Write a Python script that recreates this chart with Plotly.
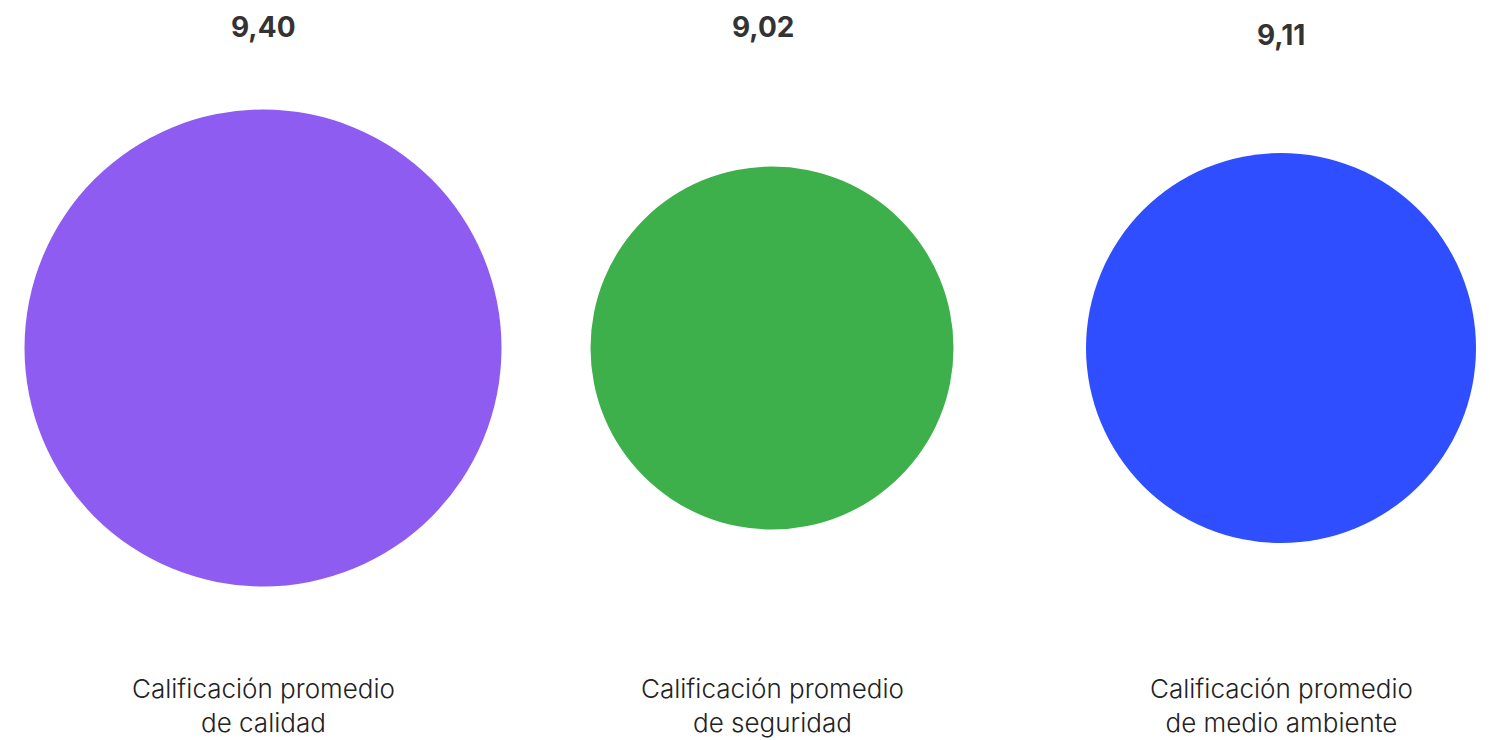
import plotly.graph_objects as go

categories = ["calidad", "seguridad", "medio ambiente"]
values = [9.40, 9.02, 9.11]
labels = ["Calificación promedio<br>de calidad",
          "Calificación promedio<br>de seguridad",
          "Calificación promedio<br>de medio ambiente"]
colors = ["#8E5CF0", "#3DB04B", "#2E4EFF"]

# bubble diameter (px) scale from value
def bubble_size(v):
    return 300 * (v - 7.81)

x_pos = list(range(len(categories)))

fig = go.Figure()
fig.add_trace(go.Scatter(
    x=x_pos, y=[0] * len(values), mode="markers",
    marker=dict(size=[bubble_size(v) for v in values], color=colors,
                line=dict(width=0), opacity=1),
    hoverinfo="skip", showlegend=False,
))

top_offsets = [19, 19, 27]
top_xshift = [0, -9, 0]
H = 680.0
for i, (v, lab) in enumerate(zip(values, labels)):
    fig.add_annotation(
        x=x_pos[i], xref="x", y=1 - top_offsets[i] / H, yref="paper",
        text=f"{v:.2f}".replace(".", ","), showarrow=False,
        xanchor="center", yanchor="middle", xshift=top_xshift[i],
        font=dict(family="Inter", size=28, color="#333333", weight=700),
    )
    fig.add_annotation(
        x=x_pos[i], xref="x", y=1 - 698 / H, yref="paper",
        text=lab, showarrow=False, xanchor="center", yanchor="middle",
        align="center",
        font=dict(family="Inter", size=26, color="#222222", weight=300),
    )

fig.update_layout(
    width=1482, height=732,
    margin=dict(l=0, r=0, t=0, b=52),
    paper_bgcolor="white", plot_bgcolor="white",
    xaxis=dict(range=[-0.501, 2.4106], visible=False, fixedrange=True),
    yaxis=dict(range=[-1, 1], visible=False, fixedrange=True),
)

fig.write_html("out.html")
